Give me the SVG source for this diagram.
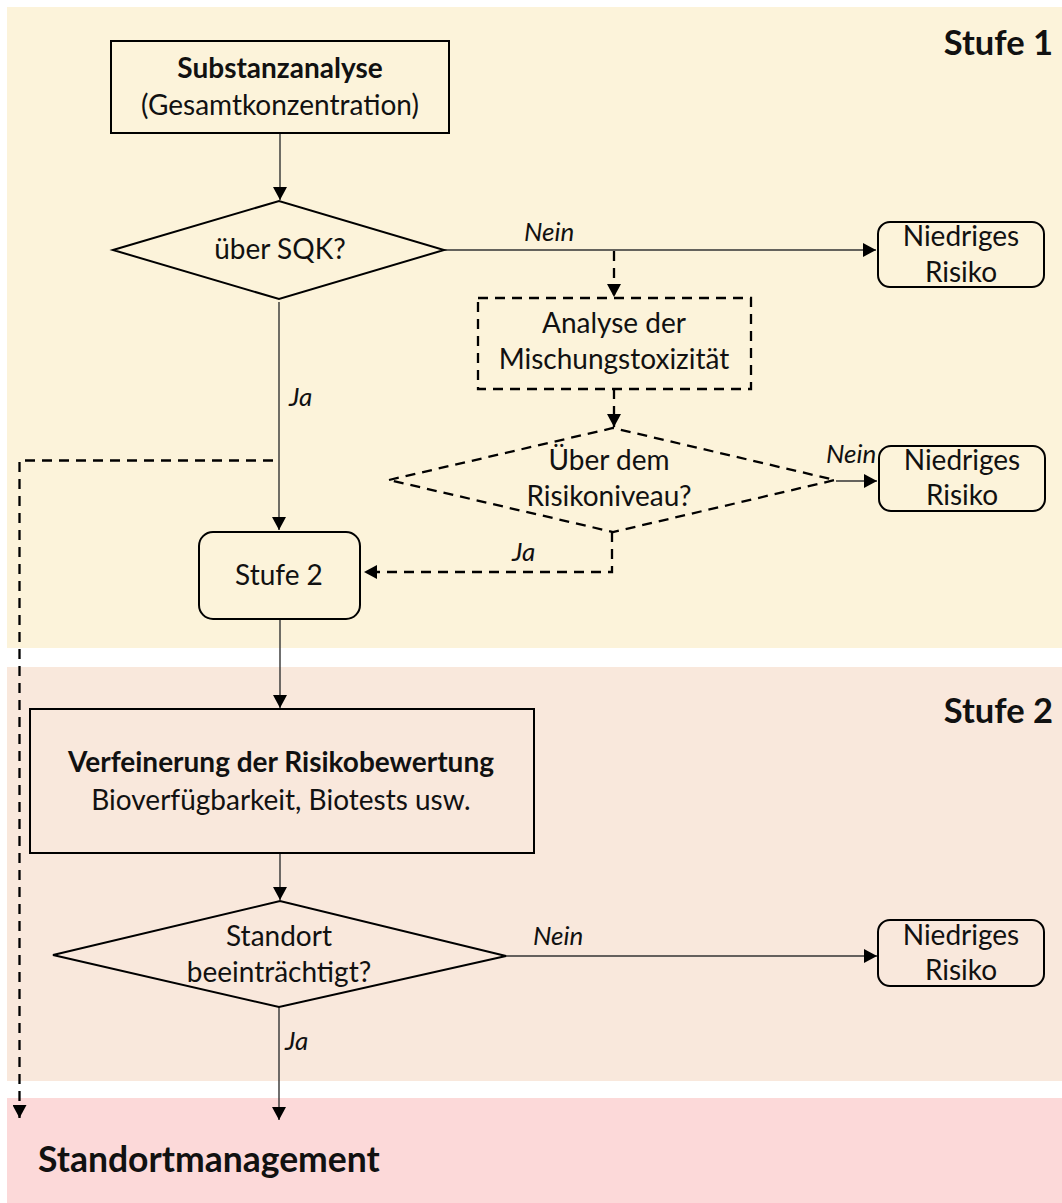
<svg xmlns="http://www.w3.org/2000/svg" width="1062" height="1203" viewBox="0 0 1062 1203">
<defs>
<marker id="ah" markerUnits="userSpaceOnUse" markerWidth="14" markerHeight="14" refX="13" refY="7" orient="auto">
<path d="M0,0 L13,7 L0,14 Z" fill="#000"/>
</marker>
<style>
text{font-family:Lato,"Open Sans",sans-serif;fill:#111;}
.t{font-size:28px;text-anchor:middle;}
.b{font-weight:bold;}
.i{font-style:italic;font-size:26px;}
.h{font-size:34.5px;font-weight:bold;}
.box{fill:none;stroke:#000;stroke-width:2;}
.dbox{fill:none;stroke:#000;stroke-width:2.3;stroke-dasharray:10 7;}
.c{fill:none;stroke:#333;stroke-width:1.4;}
.dc{fill:none;stroke:#000;stroke-width:2.3;stroke-dasharray:10 7;}
</style>
</defs>
<rect width="1062" height="1203" fill="#fff"/>
<g id="panels">
<rect x="7" y="7" width="1055" height="641" fill="#FCF3DA"/>
<rect x="7" y="667" width="1055" height="414" fill="#F9E8DC"/>
<rect x="7" y="1098" width="1055" height="105" fill="#FCD9D9"/>
<text class="h" x="1053" y="55" text-anchor="end">Stufe 1</text>
<text class="h" x="1053" y="723" text-anchor="end">Stufe 2</text>
</g>
<g id="connectors">
<path class="c" d="M280,133 V200" marker-end="url(#ah)"/>
<path class="c" d="M444,250 H876" marker-end="url(#ah)"/>
<path class="dc" d="M614,251 V297" marker-end="url(#ah)"/>
<path class="dc" d="M614,389 V427" marker-end="url(#ah)"/>
<path class="c" d="M836,481 H877" marker-end="url(#ah)"/>
<path class="dc" d="M612,532 V572 H364" marker-end="url(#ah)"/>
<path class="c" d="M279,302 V530" marker-end="url(#ah)"/>
<path class="dc" d="M273,460.5 H19.5 V1118" marker-end="url(#ah)"/>
<path class="c" d="M280,619 V708" marker-end="url(#ah)"/>
<path class="c" d="M280,853 V900" marker-end="url(#ah)"/>
<path class="c" d="M506,956 H877" marker-end="url(#ah)"/>
<path class="c" d="M279,1007 V1120" marker-end="url(#ah)"/>
<text class="i" x="524" y="241">Nein</text>
<text class="i" x="826" y="463">Nein</text>
<text class="i" x="289" y="406">Ja</text>
<text class="i" x="512" y="561">Ja</text>
<text class="i" x="533" y="945">Nein</text>
<text class="i" x="285" y="1050">Ja</text>
</g>
<g id="substanzanalyse">
<rect class="box" x="111" y="41" width="338" height="92"/>
<text class="t b" x="280" y="78">Substanzanalyse</text>
<text class="t" x="280" y="115">(Gesamtkonzentration)</text>
</g>
<g id="ueber-sqk">
<polygon class="box" points="113,250 279,201 444,250 279,299"/>
<text class="t" x="280" y="259">über SQK?</text>
</g>
<g id="niedrig1">
<rect class="box" x="878" y="222" width="166" height="65" rx="12"/>
<text class="t" x="961" y="246">Niedriges</text>
<text class="t" x="961" y="282">Risiko</text>
</g>
<g id="mischung">
<rect class="dbox" x="478" y="298" width="273" height="91"/>
<text class="t" x="614" y="333">Analyse der</text>
<text class="t" x="614" y="369">Mischungstoxizität</text>
</g>
<g id="risikoniveau">
<polygon class="dbox" points="389,480 613,428 835,480 613,532"/>
<text class="t" x="609" y="470">Über dem</text>
<text class="t" x="609" y="506">Risikoniveau?</text>
</g>
<g id="niedrig2">
<rect class="box" x="879" y="446" width="166" height="65" rx="12"/>
<text class="t" x="962" y="470">Niedriges</text>
<text class="t" x="962" y="505">Risiko</text>
</g>
<g id="stufe2">
<rect class="box" x="199" y="532" width="161" height="87" rx="14"/>
<text class="t" x="279" y="585">Stufe 2</text>
</g>
<g id="verfeinerung">
<rect class="box" x="30" y="709" width="504" height="144"/>
<text class="t b" x="281" y="772">Verfeinerung der Risikobewertung</text>
<text class="t" x="281" y="810">Bioverfügbarkeit, Biotests usw.</text>
</g>
<g id="standort">
<polygon class="box" points="53,955 280,901 506,956 279,1007"/>
<text class="t" x="279" y="946">Standort</text>
<text class="t" x="279" y="982">beeinträchtigt?</text>
</g>
<g id="niedrig3">
<rect class="box" x="878" y="920" width="166" height="66" rx="12"/>
<text class="t" x="961" y="945">Niedriges</text>
<text class="t" x="961" y="980">Risiko</text>
</g>
<g id="management">
<text class="h" x="38" y="1172" style="font-size:35.5px">Standortmanagement</text>
</g>
</svg>
